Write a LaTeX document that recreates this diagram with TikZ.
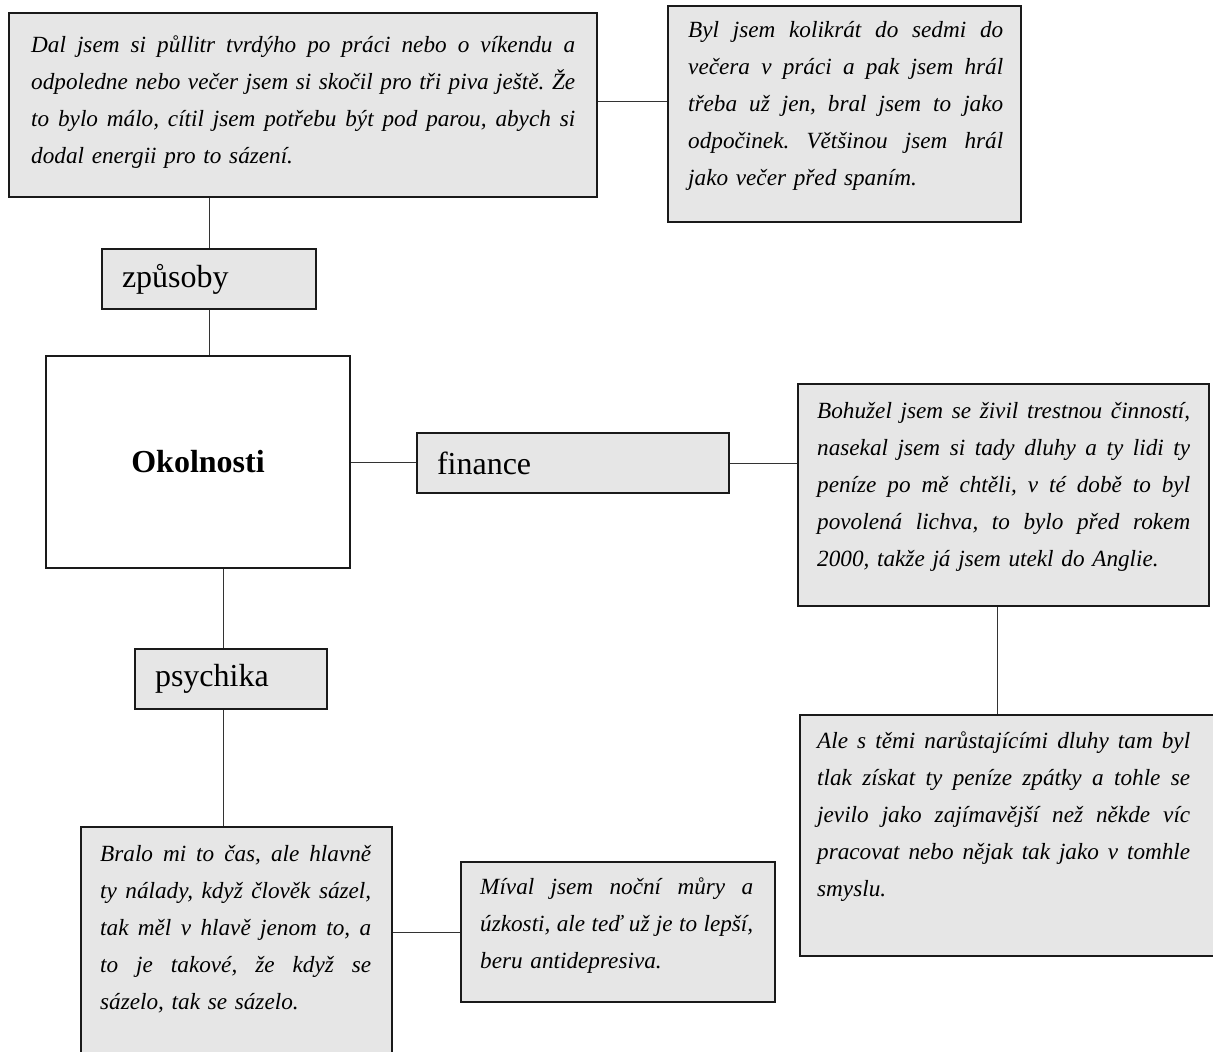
\documentclass[tikz,border=0pt]{standalone}
\usepackage{fontspec}
\setmainfont{Liberation Serif}
\usetikzlibrary{calc}
\frenchspacing
\definecolor{boxgray}{HTML}{E6E6E6}
\definecolor{edge}{HTML}{1A1A1A}
\definecolor{wire}{HTML}{333333}
% one justified line of a quotation
\newcommand\jl[1]{\noindent\hbox to \hsize{\spaceskip=0.25em plus 0.6em minus 0.09em #1}\\}
\newcommand\firstline{\noindent\rule{0pt}{18pt}}
\tikzset{
  frame/.style={draw=edge, line width=2pt, fill=boxgray, inner sep=0pt, anchor=north west},
  tagbox/.style={frame, inner xsep=20pt, align=left, minimum height=60pt,
                 font=\fontsize{32}{38}\selectfont},
  quote/.style={inner sep=0pt, anchor=north west, align=left,
                font=\fontsize{23.2}{37}\selectfont\itshape},
  link/.style={draw=wire, line width=1pt},
}
\begin{document}
\begin{tikzpicture}[x=1pt,y=-1pt]
\useasboundingbox (0,0) rectangle (1213,1052);

% quotation boxes
\node[frame, minimum width=588, minimum height=184] (tl) at (8,12) {};
\node[quote, text width=544] (tltext) at (31,34) {\firstline
\jl{Dal jsem si půllitr tvrdýho po práci nebo o víkendu a}
\jl{odpoledne nebo večer jsem si skočil pro tři piva ještě. Že}
\jl{to bylo málo, cítil jsem potřebu být pod parou, abych si}
dodal energii pro to sázení.};

\node[frame, minimum width=353, minimum height=216] (tr) at (667,5) {};
\node[quote, text width=315] (trtext) at (688,19) {\firstline
\jl{Byl jsem kolikrát do sedmi do}
\jl{večera v práci a pak jsem hrál}
\jl{třeba už jen, bral jsem to jako}
\jl{odpočinek. Většinou jsem hrál}
jako večer před spaním.};

\node[frame, minimum width=411, minimum height=222] (ft) at (797,383) {};
\node[quote, text width=373] (fttext) at (817,400) {\firstline
\jl{Bohužel jsem se živil trestnou činností,}
\jl{nasekal jsem si tady dluhy a ty lidi ty}
\jl{peníze po mě chtěli, v té době to byl}
\jl{povolená lichva, to bylo před rokem}
2000, takže já jsem utekl do Anglie.};

\node[frame, minimum width=430, minimum height=241] (br) at (799,714) {};
\node[quote, text width=373] (brtext) at (817,730) {\firstline
\jl{Ale s těmi narůstajícími dluhy tam byl}
\jl{tlak získat ty peníze zpátky a tohle se}
\jl{jevilo jako zajímavější než někde víc}
\jl{pracovat nebo nějak tak jako v tomhle}
smyslu.};

\node[frame, minimum width=311, minimum height=250] (bl) at (80,826) {};
\node[quote, text width=271] (bltext) at (100,843) {\firstline
\jl{Bralo mi to čas, ale hlavně}
\jl{ty nálady, když člověk sázel,}
\jl{tak měl v hlavě jenom to, a}
\jl{to je takové, že když se}
sázelo, tak se sázelo.};

\node[frame, minimum width=314, minimum height=140] (bm) at (460,861) {};
\node[quote, text width=273] (bmtext) at (480,876) {\firstline
\jl{Míval jsem noční můry a}
\jl{úzkosti, ale teď už je to lepší,}
beru antidepresiva.};

% headings
\node[tagbox, text width=174] (zp) at (101,248) {způsoby};
\node[frame, fill=white, minimum width=304, minimum height=212,
      font=\fontsize{32}{38}\selectfont\bfseries] (ok) at (45,355) {Okolnosti};
\node[tagbox, text width=272] (fin) at (416,432) {finance};
\node[tagbox, text width=152] (ps) at (134,648) {psychika};

% connectors
\draw[link] ([yshift=4pt]tl.east) -- ([yshift=4pt]tl.east -| tr.west);
\draw[link] (zp.north) -- (zp.north |- tl.south);
\draw[link] (zp.south) -- (zp.south |- ok.north);
\draw[link] (ok.east) -- (ok.east -| fin.west);
\draw[link] (fin.east) -- (fin.east -| ft.west);
\draw[link] ([xshift=-6pt]ft.south) -- ([xshift=-6pt]ft.south |- br.north);
\draw[link] ([xshift=-8pt]ps.north) -- ([xshift=-8pt]ps.north |- ok.south);
\draw[link] ([xshift=-8pt]ps.south) -- ([xshift=-8pt]ps.south |- bl.north);
\draw[link] (bm.west) -- (bm.west -| bl.east);
\end{tikzpicture}
\end{document}
